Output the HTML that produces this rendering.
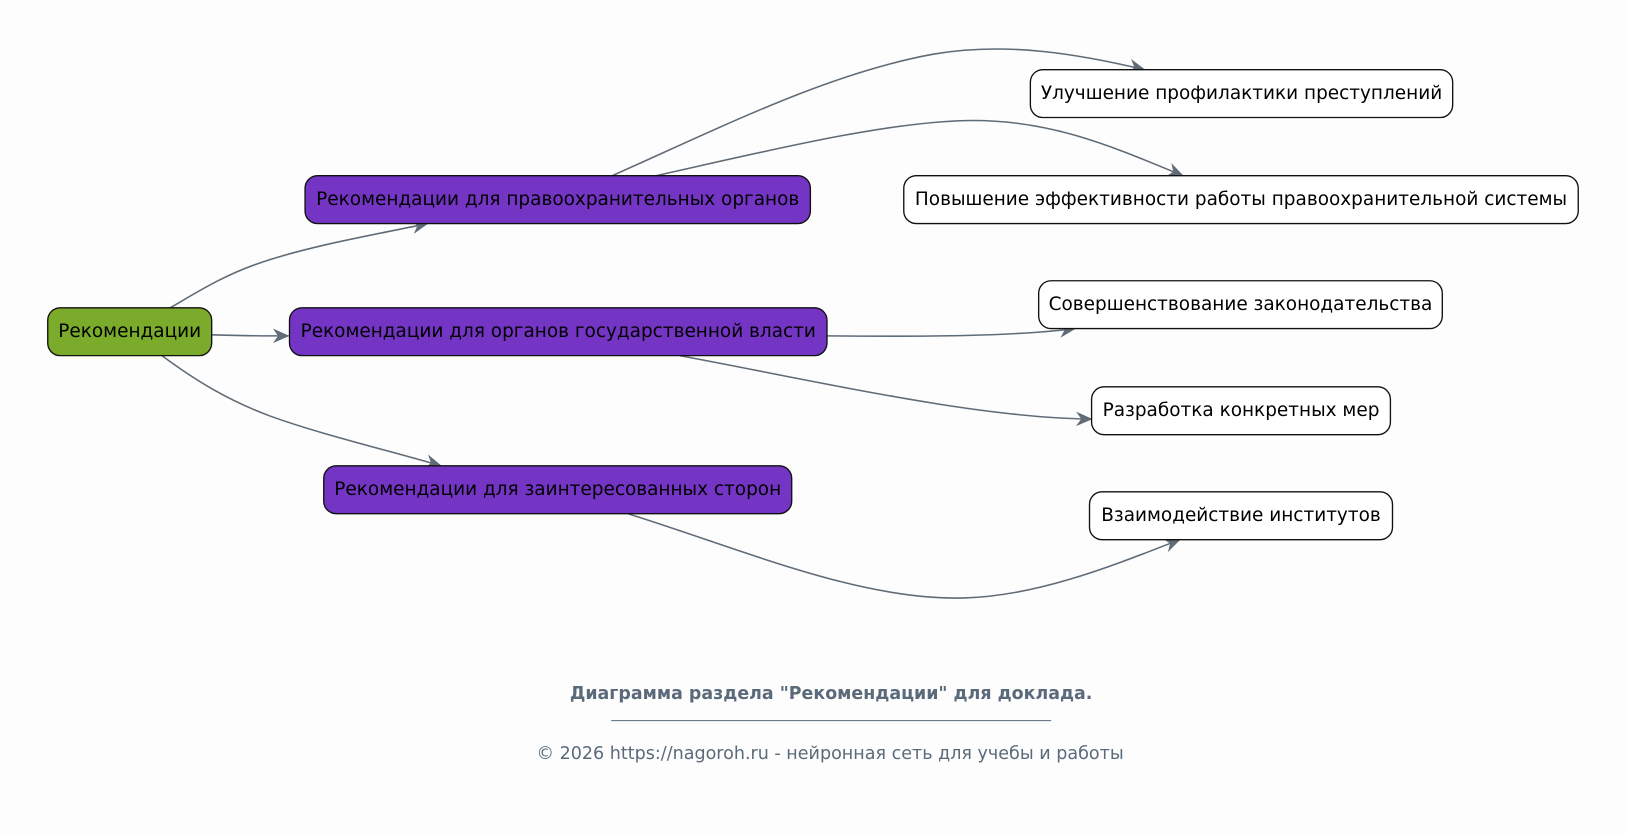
<!DOCTYPE html>
<html><head><meta charset="utf-8"><style>
html,body{margin:0;padding:0;background:#fdfdfd;}
svg{display:block;}
text{font-family:"DejaVu Sans","Liberation Sans",sans-serif;}
</style></head><body>
<svg width="1627" height="835" viewBox="0 0 1568 803" preserveAspectRatio="none" xmlns="http://www.w3.org/2000/svg">
<defs>
<marker id="a" viewBox="0 0 16 14" refX="15" refY="7" markerWidth="16" markerHeight="14" markerUnits="userSpaceOnUse" orient="auto">
<path d="M0,0 L16,7 L0,14 L5,7 Z" fill="#5f6b77"/>
</marker>
</defs>
<rect width="1568" height="803" fill="#fdfdfd"/>
<g fill="none" stroke="#5f6b77" stroke-width="1.5">
<path d="M164,296 C190,281 215,265 250,253 C300,236 360,226 412,215" marker-end="url(#a)"/>
<path d="M204,322 C230,323 250,323 278,323" marker-end="url(#a)"/>
<path d="M156,342 C190,367 220,385 260,400 C310,418 370,432 425,448" marker-end="url(#a)"/>
<path d="M590,169 C700,120 800,70 900,52 C970,40 1040,52 1103,67" marker-end="url(#a)"/>
<path d="M632,169 C740,145 850,118 930,116 C1010,114 1070,140 1140,169" marker-end="url(#a)"/>
<path d="M797,323 C900,324 980,323 1036,316" marker-end="url(#a)"/>
<path d="M655,342 C790,367 940,402 1052,403" marker-end="url(#a)"/>
<path d="M605,494 C720,530 830,578 930,575 C1000,573 1070,545 1137,519" marker-end="url(#a)"/>
</g>
<g stroke="#111" stroke-width="1.3">
<rect x="46" y="296" width="158" height="46" rx="12" fill="#7aab2a"/>
<rect x="294" y="169" width="487" height="46" rx="12" fill="#7434c4"/>
<rect x="279" y="296" width="518" height="46" rx="12" fill="#7434c4"/>
<rect x="312" y="448" width="451" height="46" rx="12" fill="#7434c4"/>
<rect x="993" y="67" width="407" height="46" rx="12" fill="#fff"/>
<rect x="871" y="169" width="650" height="46" rx="12" fill="#fff"/>
<rect x="1001" y="270" width="389" height="46" rx="12" fill="#fff"/>
<rect x="1052" y="372" width="288" height="46" rx="12" fill="#fff"/>
<rect x="1050" y="473" width="292" height="46" rx="12" fill="#fff"/>
</g>
<g font-size="17.8" fill="#000" text-anchor="middle">
<text x="125" y="324">Рекомендации</text>
<text x="537.5" y="197">Рекомендации для правоохранительных органов</text>
<text x="538" y="324">Рекомендации для органов государственной власти</text>
<text x="537.5" y="476">Рекомендации для заинтересованных сторон</text>
<text x="1196.5" y="95">Улучшение профилактики преступлений</text>
<text x="1196" y="197">Повышение эффективности работы правоохранительной системы</text>
<text x="1195.5" y="298">Совершенствование законодательства</text>
<text x="1196" y="400">Разработка конкретных мер</text>
<text x="1196" y="501">Взаимодействие институтов</text>
</g>
<text x="801" y="672" font-size="16.8" font-weight="bold" fill="#5a6a7a" text-anchor="middle">Диаграмма раздела "Рекомендации" для доклада.</text>
<line x1="589" y1="693" x2="1013" y2="693" stroke="#5a6a7a" stroke-width="1"/>
<text x="800" y="730" font-size="16.9" fill="#5a6a7a" text-anchor="middle">© 2026 https://nagoroh.ru - нейронная сеть для учебы и работы</text>
</svg>
</body></html>
